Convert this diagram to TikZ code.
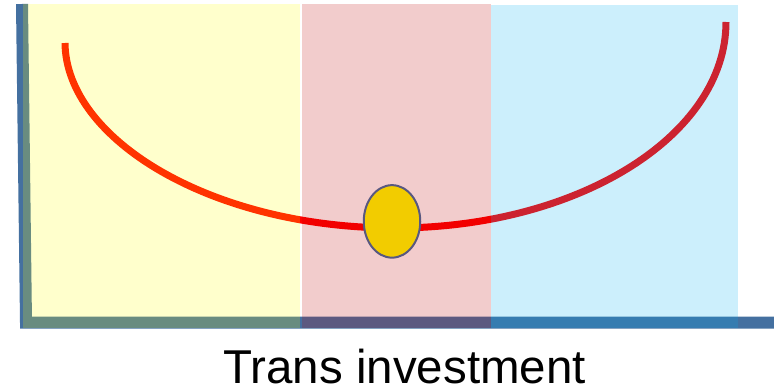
\documentclass[tikz,border=0pt]{standalone}
\usepackage{fontspec}
\setmainfont{Liberation Sans}
\usetikzlibrary{shapes.geometric}
\definecolor{axisblue}{RGB}{68,112,160}
\definecolor{zoneyellow}{RGB}{255,255,0}
\definecolor{zonered}{RGB}{192,0,0}
\definecolor{zoneblue}{RGB}{0,176,240}
\definecolor{dotfill}{RGB}{242,204,0}
\definecolor{dotedge}{RGB}{88,88,128}
\begin{document}
\begin{tikzpicture}[x=1pt,y=-1pt,
  zone/.style={draw=none, fill opacity=0.2},
  axisline/.style={draw=axisblue, line width=12pt, line join=miter},
  ucurve/.style={draw=red, line width=7pt},
  dot/.style={ellipse, draw=dotedge, fill=dotfill, line width=2pt, inner sep=0pt, minimum width=56.5pt, minimum height=72.5pt},
  caption/.style={anchor=base, inner sep=0pt, text depth=0pt, font=\fontsize{47.5}{50}\selectfont}]
\useasboundingbox (0,0) rectangle (774,390);
% axes
\coordinate (ytop) at (22,4);
\coordinate (origin) at (26,322.5);
\coordinate (xend) at (774,322.5);
\draw[axisline] (ytop) -- (origin) -- (xend);
% curve
\coordinate (cl) at (65,43);
\coordinate (cb) at (395,228);
\coordinate (cr) at (726,22);
\draw[ucurve] (cl) .. controls (66,140) and (212.7,228) .. (cb)
              .. controls (577.8,228) and (726,135.8) .. (cr);
% zones
\fill[zone, zoneyellow] (22.5,4) rectangle (300,327.5);
\fill[zone, zonered] (302,4) rectangle (490.5,327.5);
\fill[zone, zoneblue] (490.5,5) rectangle (738,327.5);
% dot
\node[dot] (ball) at (392,221.4) {};
% label
\node[caption] (label) at (404.7,383) {Trans investment};
\end{tikzpicture}
\end{document}
